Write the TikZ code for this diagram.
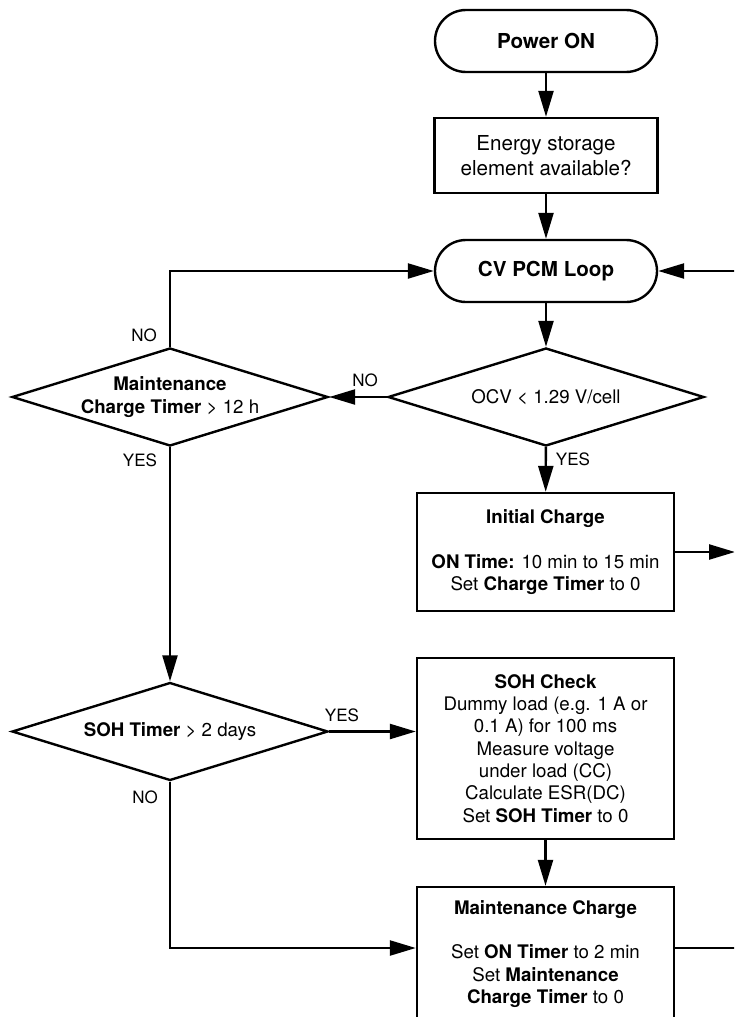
\documentclass[tikz,border=0pt]{standalone}
\usepackage{fontspec}
\setmainfont{TeX Gyre Heros}
\usetikzlibrary{shapes.geometric,arrows.meta}
\newcommand\mainsz{\fontsize{18.7pt}{22.3pt}\selectfont}
\newcommand\topsz{\fontsize{20.6pt}{25.5pt}\selectfont}
\newcommand\lblsz{\fontsize{17pt}{20pt}\selectfont}
\begin{document}
\begin{tikzpicture}[x=1pt,y=-1pt,
  ln/.style={line width=2.4pt},
  arr/.style={ln,-{Triangle[length=26pt,width=15pt]}},
  term/.style={draw,ln,rectangle,rounded corners=31pt,minimum width=222pt,minimum height=62pt,font=\topsz\bfseries,inner sep=0pt},
  box/.style={draw,ln,rectangle,minimum width=257pt,align=center,font=\mainsz,inner sep=0pt},
  dia/.style={draw,ln,diamond,minimum width=316pt,minimum height=98pt,inner sep=0pt},
  dtext/.style={align=center,font=\mainsz,inner sep=0pt},
  lbl/.style={font=\lblsz,inner sep=0pt}]
\clip (0,0) rectangle (734,1017);
\fill[white] (0,0) rectangle (734,1017);
% nodes
\node[term] (pon) at (546,41) {Power ON};
\node[box, minimum width=223pt, minimum height=75pt, font=\topsz] (esb) at (546,155.5) {Energy storage\\element available?};
\node[term] (cv) at (546,271) {CV PCM Loop};
\node[dia, label={[dtext]center:{OCV < 1.29 V/cell}}] (d2) at (546,397) {};
\node[dia, label={[dtext]center:{\textbf{Maintenance}\\\textbf{Charge Timer} > 12 h}}] (d1) at (170,397) {};
\node[box, minimum height=118pt] (ic) at (545.5,552) {\textbf{Initial Charge}\\[22.3pt]\textbf{ON Time:} 10 min to 15 min\\Set \textbf{Charge Timer} to 0};
\node[dia, label={[dtext]center:{\textbf{SOH Timer} > 2 days}}] (d3) at (170,731.5) {};
\node[box, minimum height=181pt] (soh) at (545.5,748.5) {\textbf{SOH Check}\\Dummy load (e.g. 1 A or\\0.1 A) for 100 ms\\Measure voltage\\under load (CC)\\Calculate ESR(DC)\\Set \textbf{SOH Timer} to 0};
\node[box, minimum height=134pt] (mc) at (545.5,954) {\textbf{Maintenance Charge}\\[22.3pt]Set \textbf{ON Timer} to 2 min\\Set \textbf{Maintenance}\\\textbf{Charge Timer} to 0};
% free ends
\coordinate (rc) at (760,271);
\coordinate (ro) at (735,552);
\coordinate (rm) at (760,948);
% connectors
\draw[arr] (pon) -- (esb);
\draw[arr] (esb) -- (cv);
\draw[arr] (cv) -- (d2);
\draw[arr] (d2) -- (d1);
\draw[arr] (d2) -- (ic);
\draw[arr] (d1.north) |- (cv.west);
\draw[arr] (d1) -- (d3);
\draw[arr] (d3) -- (soh.west |- d3);
\draw[arr] (soh) -- (mc);
\draw[arr] (d3.south) |- ([yshift=6pt]mc.west);
\draw[arr] (rc) -- (cv.east);
\draw[arr] (ic.east) -- (ro);
\draw[ln] ([yshift=6pt]mc.east) -- (rm);
% labels
\node[lbl] (l1) at (144,335) {NO};
\node[lbl] (l2) at (365,380) {NO};
\node[lbl] (l3) at (140,460) {YES};
\node[lbl] (l4) at (573,459) {YES};
\node[lbl] (l5) at (342,715) {YES};
\node[lbl] (l6) at (145,797) {NO};
\end{tikzpicture}
\end{document}
